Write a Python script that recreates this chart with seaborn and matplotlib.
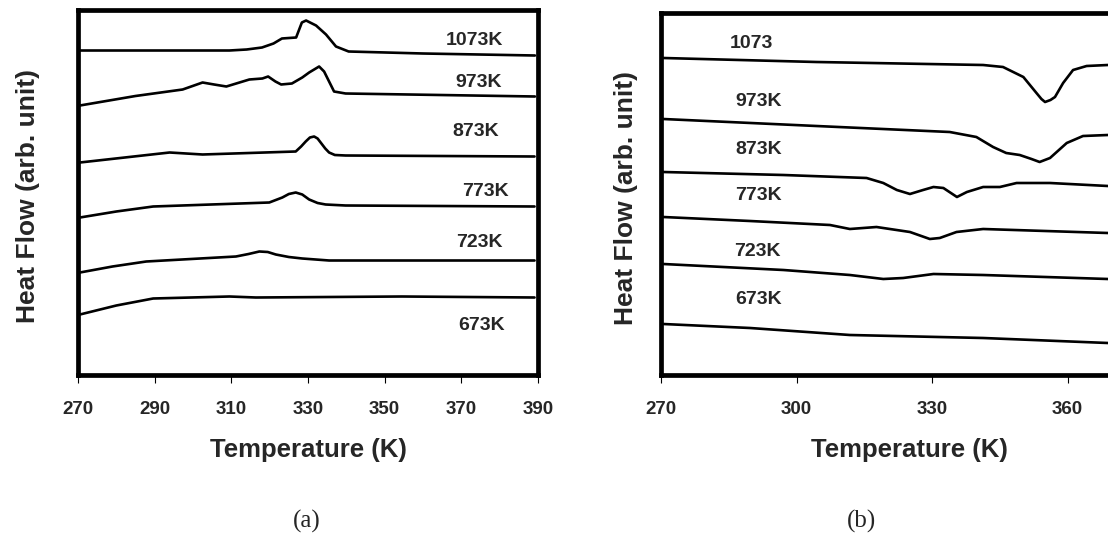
import pandas as pd
import matplotlib
matplotlib.use('Agg')
import matplotlib.pyplot as plt
import seaborn as sns

# ---- panel (a): heat flow traces (arb. units, stacked) ----
a_1073_T = [270.5, 290, 309.5, 314, 318, 321, 323.2, 326.9, 328.4, 329.5, 332.1, 334.7, 337.3, 340.6, 360, 389.2]
a_1073_H = [32.4, 32.4, 32.4, 32.5, 32.7, 33.1, 33.6, 33.7, 35.2, 35.4, 34.9, 34.0, 32.8, 32.3, 32.1, 31.9]

a_973_T = [270.5, 285, 297.3, 302.5, 305.5, 308.7, 314.7, 318.1, 319.6, 321.5, 323.0, 325.8, 328.5, 330.3, 332.9, 334.2, 336.8, 339.8, 389.2]
a_973_H = [26.9, 27.85, 28.5, 29.2, 29.0, 28.8, 29.5, 29.6, 29.8, 29.3, 29.0, 29.1, 29.7, 30.2, 30.8, 30.3, 28.3, 28.1, 27.8]

a_873_T = [270.5, 293.9, 302.5, 326.8, 328.2, 329.4, 330.5, 331.6, 332.5, 333.3, 334.5, 335.5, 337.0, 339.8, 389.1]
a_873_H = [21.2, 22.2, 22.0, 22.3, 22.8, 23.3, 23.7, 23.8, 23.6, 23.2, 22.6, 22.2, 21.95, 21.9, 21.8]

a_773_T = [270.5, 280, 289.6, 319.9, 323.3, 325.0, 326.8, 328.5, 330.3, 332.5, 334.6, 339.8, 389.1]
a_773_H = [15.7, 16.3, 16.8, 17.2, 17.7, 18.05, 18.2, 18.0, 17.5, 17.15, 17.0, 16.9, 16.8]

a_723_T = [270.5, 279, 287.8, 311.2, 314.5, 317.3, 319.5, 321.6, 325.0, 328.5, 335.5, 389.1]
a_723_H = [10.2, 10.8, 11.3, 11.8, 12.05, 12.3, 12.25, 12.0, 11.75, 11.6, 11.4, 11.4]

a_673_T = [270.5, 280, 289.6, 309.5, 316.4, 354.5, 389.1]
a_673_H = [6.0, 6.9, 7.6, 7.8, 7.7, 7.8, 7.7]

# ---- panel (b) ----
b_1073_T = [270.5, 304.4, 341.3, 345.7, 350.2, 353.1, 354.2, 355.0, 356.2, 357.2, 359.0, 361.2, 364.2, 368.9, 380]
b_1073_H = [31.7, 31.3, 31.0, 30.8, 29.8, 28.2, 27.6, 27.3, 27.5, 27.8, 29.2, 30.5, 30.9, 31.0, 31.0]

b_973_T = [270.5, 304.4, 333.9, 339.8, 343.5, 346.4, 349.4, 352.0, 353.8, 356.1, 359.8, 363.4, 368.9, 380]
b_973_H = [25.6, 24.9, 24.3, 23.8, 22.8, 22.2, 22.0, 21.6, 21.3, 21.7, 23.2, 23.9, 24.0, 24.0]

b_873_T = [270.5, 297.1, 315.5, 319.2, 322.2, 325.1, 328.0, 330.3, 332.5, 335.5, 337.7, 341.3, 345.0, 348.7, 356.1, 368.9, 380]
b_873_H = [20.3, 20.0, 19.7, 19.2, 18.5, 18.1, 18.5, 18.8, 18.7, 17.8, 18.3, 18.8, 18.8, 19.2, 19.2, 18.9, 18.8]

b_773_T = [270.5, 289.7, 307.4, 311.8, 317.7, 325.1, 329.5, 331.7, 335.4, 341.3, 368.9, 380]
b_773_H = [15.8, 15.4, 15.0, 14.6, 14.8, 14.3, 13.6, 13.7, 14.3, 14.6, 14.2, 14.1]

b_723_T = [270.5, 297.1, 311.8, 319.2, 323.6, 330.3, 341.3, 368.9, 380]
b_723_H = [11.1, 10.5, 10.0, 9.6, 9.7, 10.1, 10.0, 9.6, 9.5]

b_673_T = [270.5, 289.7, 311.8, 341.3, 368.9, 380]
b_673_H = [5.1, 4.7, 4.0, 3.7, 3.2, 3.1]

# curve labels (text, T, heat flow)
a_labels = ['1073K', '973K', '873K', '773K', '723K', '673K']
a_label_T = [373.4, 374.4, 373.7, 376.2, 374.6, 375.3]
a_label_H = [33.4, 29.2, 24.3, 18.3, 13.2, 4.9]

b_labels = ['1073', '973K', '873K', '773K', '723K', '673K']
b_label_T = [285.3, 286.4, 286.4, 286.4, 286.2, 286.4]
b_label_H = [33.2, 27.3, 22.5, 18.0, 12.3, 7.5]

a_ticks = [270, 290, 310, 330, 350, 370, 390]
b_ticks = [270, 300, 330, 360, 390]


def build_frame(curves):
    rows = []
    for name, T, H in curves:
        rows.append(pd.DataFrame({'sample': name, 'T': T, 'H': H}))
    return pd.concat(rows, ignore_index=True)


df_a = build_frame([('1073K', a_1073_T, a_1073_H), ('973K', a_973_T, a_973_H),
                    ('873K', a_873_T, a_873_H), ('773K', a_773_T, a_773_H),
                    ('723K', a_723_T, a_723_H), ('673K', a_673_T, a_673_H)])
df_b = build_frame([('1073', b_1073_T, b_1073_H), ('973K', b_973_T, b_973_H),
                    ('873K', b_873_T, b_873_H), ('773K', b_773_T, b_773_H),
                    ('723K', b_723_T, b_723_H), ('673K', b_673_T, b_673_H)])

sns.set_theme(style='white')
plt.rcParams['font.family'] = ['Liberation Sans', 'DejaVu Sans']

fig = plt.figure(figsize=(11.08, 5.49), dpi=100)
ax_a = fig.add_axes([78 / 1108, 1 - 374.5 / 549, 460 / 1108, 365 / 549])
ax_b = fig.add_axes([661 / 1108, 1 - 375 / 549, 497 / 1108, 362 / 549])


def style_panel(ax, df, ticks, xlim, ylim, labels, lab_T, lab_H, ha, ylabel_x):
    sns.lineplot(data=df, x='T', y='H', units='sample', estimator=None, sort=False,
                 color='black', linewidth=1.9, ax=ax)
    ax.set_xticks(ticks)
    ax.set_xticklabels([str(t) for t in ticks], fontsize=13.5, fontweight='bold')
    ax.set_yticks([])
    # limits after the ticks, so that ticks beyond the edge do not widen the view
    ax.set_xlim(*xlim)
    ax.set_ylim(*ylim)
    ax.tick_params(axis='x', direction='out', length=6, width=0.8, pad=13,
                   bottom=True, color='black')
    for s in ax.spines.values():
        s.set_linewidth(3.4)
        s.set_color('black')
    ax.set_xlabel('Temperature (K)', fontsize=18.5, fontweight='bold')
    ax.set_ylabel('Heat Flow (arb. unit)', fontsize=19, fontweight='bold')
    ax.xaxis.set_label_coords(0.5, -0.175)
    ax.yaxis.set_label_coords(ylabel_x, 0.49)
    for txt, t, h in zip(labels, lab_T, lab_H):
        ax.text(t, h, txt, fontsize=14, fontweight='bold', ha=ha, va='center')


style_panel(ax_a, df_a, a_ticks, (270, 390), (0, 36.5),
            a_labels, a_label_T, a_label_H, 'center', -0.083)
style_panel(ax_b, df_b, b_ticks, (270, 380), (0, 36.2),
            b_labels, b_label_T, b_label_H, 'left', -0.046)
ax_b.spines['right'].set_visible(False)

fig.text(307 / 1108, 1 - 521 / 549, '(a)', fontsize=18, family='Liberation Serif',
         ha='center', va='center')
fig.text(862 / 1108, 1 - 521 / 549, '(b)', fontsize=18, family='Liberation Serif',
         ha='center', va='center')

fig.savefig('out.png', dpi=100)
